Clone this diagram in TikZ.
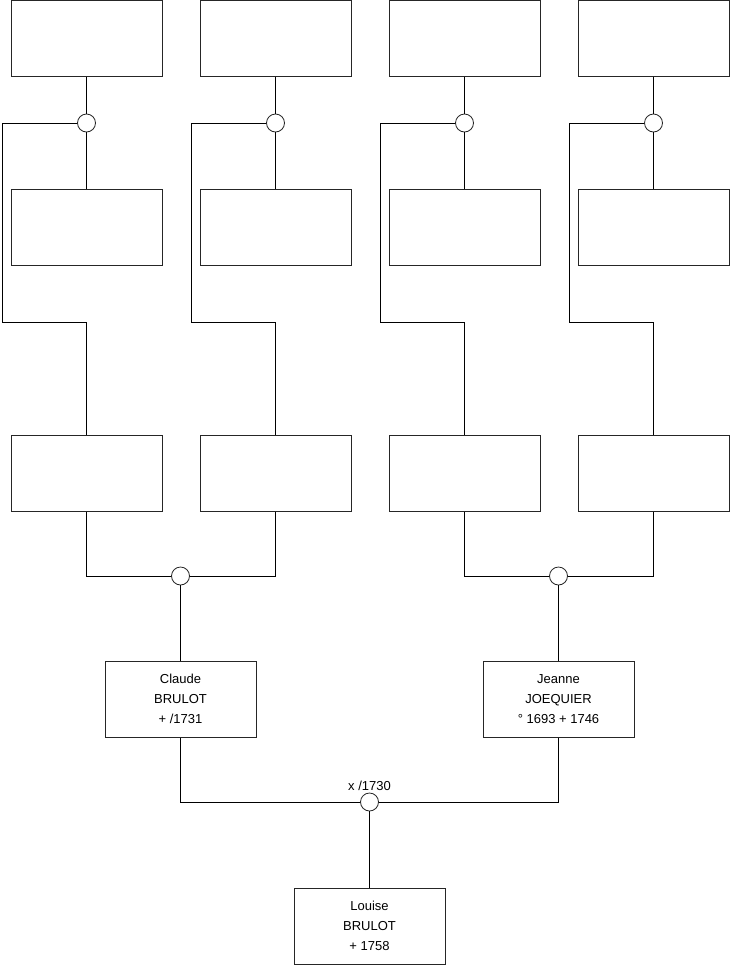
\documentclass[tikz,border=0pt]{standalone}
\usepackage{fontspec}
\setmainfont{Liberation Sans}
\begin{document}
\begin{tikzpicture}[x=1pt,y=-1pt,
  person/.style={draw=black!85,line width=1pt,fill=white,minimum width=151pt,minimum height=76pt,inner sep=0pt,align=center,font=\fontsize{13}{20}\selectfont},
  union/.style={circle,draw=black!85,line width=0.8pt,fill=white,minimum size=18pt,inner sep=0pt},
  link/.style={draw=black,line width=0.8pt}]
\useasboundingbox (0,0) rectangle (740,975);
\fill[white] (0,0) rectangle (740,975);
% top row
\node[person] (a1) at (86.5,38) {};
\node[person] (a2) at (275.5,38) {};
\node[person] (a3) at (464.5,38) {};
\node[person] (a4) at (653.5,38) {};
% second row
\node[person] (b1) at (86.5,227) {};
\node[person] (b2) at (275.5,227) {};
\node[person] (b3) at (464.5,227) {};
\node[person] (b4) at (653.5,227) {};
% third row
\node[person] (c1) at (86.5,473) {};
\node[person] (c2) at (275.5,473) {};
\node[person] (c3) at (464.5,473) {};
\node[person] (c4) at (653.5,473) {};
% parents
\node[person] (claude) at (180.5,699) {Claude\\BRULOT\\+ /1731};
\node[person] (jeanne) at (558.5,699) {Jeanne\\JOEQUIER\\° 1693 + 1746};
\node[person] (louise) at (369.5,926) {Louise\\BRULOT\\+ 1758};
% unions
\node[union] (u1) at (86.5,123) {};
\node[union] (u2) at (275.5,123) {};
\node[union] (u3) at (464.5,123) {};
\node[union] (u4) at (653.5,123) {};
\node[union] (uc) at (180.5,576) {};
\node[union] (uj) at (558.5,576) {};
\node[union] (ul) at (369.5,802) {};
\node[font=\fontsize{13}{15}\selectfont,anchor=base] (lbl) at (369.5,790) {x /1730};
% links top
\foreach \i in {1,2,3,4} {
  \draw[link] (a\i.south) -- (u\i.north);
  \draw[link] (u\i.south) -- (b\i.north);
}
\draw[link] (u1.west) -- (2,123) -- (2,322) -| (c1.north);
\draw[link] (u2.west) -- (191,123) -- (191,322) -| (c2.north);
\draw[link] (u3.west) -- (380,123) -- (380,322) -| (c3.north);
\draw[link] (u4.west) -- (569,123) -- (569,322) -| (c4.north);
% third row to unions
\draw[link] (c1.south) |- (uc.west);
\draw[link] (c2.south) |- (uc.east);
\draw[link] (uc.south) -- (claude.north);
\draw[link] (c3.south) |- (uj.west);
\draw[link] (c4.south) |- (uj.east);
\draw[link] (uj.south) -- (jeanne.north);
% parents to child
\draw[link] (claude.south) |- (ul.west);
\draw[link] (jeanne.south) |- (ul.east);
\draw[link] (ul.south) -- (louise.north);
\end{tikzpicture}
\end{document}
